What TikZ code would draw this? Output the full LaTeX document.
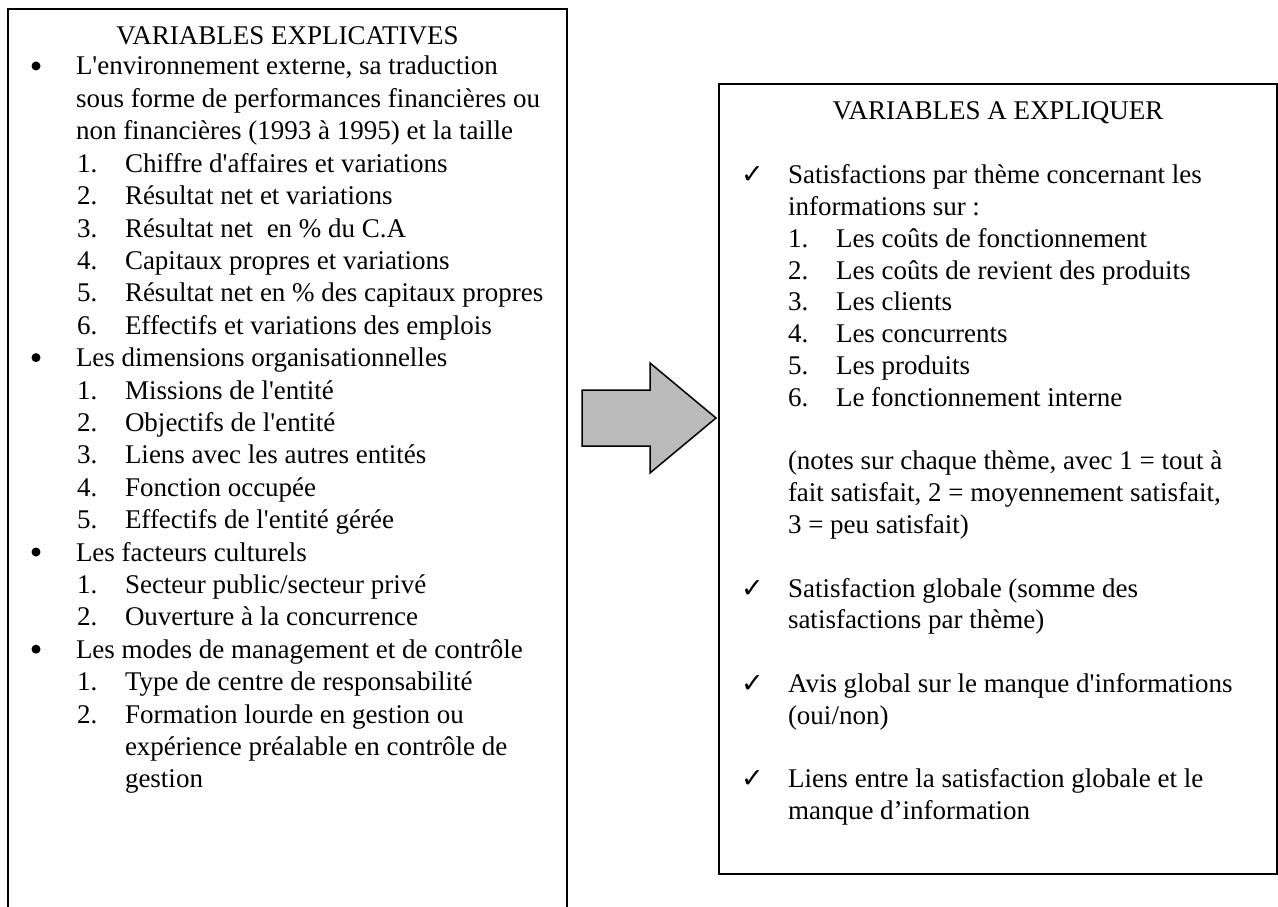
\documentclass[tikz,border=0pt]{standalone}
\usepackage{fontspec}
\setmainfont{Liberation Serif}
\newfontfamily\chkfont{DejaVu Sans}
\newcommand\txtsize{\fontsize{27}{32}\selectfont}
\newcommand\ap{\textquotesingle}
\tikzset{
  t/.style={anchor=base west, inner sep=0pt, outer sep=0pt, font=\txtsize},
  ttl/.style={anchor=base, inner sep=0pt, outer sep=0pt, font=\txtsize},
  dot/.style={circle, fill=black, draw=none, inner sep=0pt, minimum size=9pt},
  frame/.style={draw=black, line width=2pt, fill=none, inner sep=0pt, outer sep=0pt, anchor=north west},
  bigarrow/.style={draw=black, line width=1.5pt, fill=black!27}
}
\begin{document}
\begin{tikzpicture}[x=1pt,y=-1pt]
\useasboundingbox (0,0) rectangle (1278,907);
% left box (open below the page)
\node[frame, minimum width=559pt, minimum height=930pt] (lbox) at (8,9) {};
% right box
\node[frame, minimum width=558pt, minimum height=790pt] (rbox) at (719,84) {};
% block arrow
\draw[bigarrow] (582,390) -- (650,390) -- (650,363) -- (716,418) -- (650,473) -- (650,446) -- (582,446) -- cycle;

% ---------- left texts ----------
\def\ly#1{75+#1*32.4-32.4}
\node[ttl] (ltitle) at (287.5,45) {VARIABLES EXPLICATIVES};
\node[dot] (b1) at (36,{\ly{1}-9}) {};
\node[t] (l1) at (76,{\ly{1}}) {L\ap environnement externe, sa traduction};
\node[t] (l2) at (76,{\ly{2}}) {sous forme de performances financières ou};
\node[t] (l3) at (76,{\ly{3}}) {non financières (1993 à 1995) et la taille};
\foreach \k/\n/\s in {4/1./{Chiffre d\ap affaires et variations},
                      5/2./{Résultat net et variations},
                      6/3./{Résultat net \ en \% du C.A},
                      7/4./{Capitaux propres et variations},
                      8/5./{Résultat net en \% des capitaux propres},
                      9/6./{Effectifs et variations des emplois}}
  {\node[t] (ln\k) at (77,{\ly{\k}}) {\n}; \node[t] (l\k) at (125,{\ly{\k}}) {\s};}
\node[dot] (b2) at (36,{\ly{10}-9}) {};
\node[t] (l10) at (76,{\ly{10}}) {Les dimensions organisationnelles};
\foreach \k/\n/\s in {11/1./{Missions de l\ap entité},
                      12/2./{Objectifs de l\ap entité},
                      13/3./{Liens avec les autres entités},
                      14/4./{Fonction occupée},
                      15/5./{Effectifs de l\ap entité gérée}}
  {\node[t] (ln\k) at (77,{\ly{\k}}) {\n}; \node[t] (l\k) at (125,{\ly{\k}}) {\s};}
\node[dot] (b3) at (36,{\ly{16}-9}) {};
\node[t] (l16) at (76,{\ly{16}}) {Les facteurs culturels};
\node[t] (ln17) at (77,{\ly{17}}) {1.};
\node[t] (l17) at (125,{\ly{17}}) {Secteur public/secteur privé};
\node[t] (ln18) at (77,{\ly{18}}) {2.};
\node[t] (l18) at (125,{\ly{18}}) {Ouverture à la concurrence};
\node[dot] (b4) at (36,{\ly{19}-9}) {};
\node[t] (l19) at (76,{\ly{19}}) {Les modes de management et de contrôle};
\node[t] (ln20) at (77,{\ly{20}}) {1.};
\node[t] (l20) at (125,{\ly{20}}) {Type de centre de responsabilité};
\node[t] (ln21) at (77,{\ly{21}}) {2.};
\node[t] (l21) at (125,{\ly{21}}) {Formation lourde en gestion ou};
\node[t] (l22) at (125,{\ly{22}}) {expérience préalable en contrôle de};
\node[t] (l23) at (125,{\ly{23}}) {gestion};

% ---------- right texts ----------
\def\ry#1{120+#1*31.8}
\node[ttl] (rtitle) at (998,120) {VARIABLES A EXPLIQUER};
\node[t] (c1) at (741,{\ry{2}}) {\chkfont ✓};
\node[t] (r2) at (788,{\ry{2}}) {Satisfactions par thème concernant les};
\node[t] (r3) at (788,{\ry{3}}) {informations sur :};
\foreach \k/\n/\s in {4/1./{Les coûts de fonctionnement},
                      5/2./{Les coûts de revient des produits},
                      6/3./{Les clients},
                      7/4./{Les concurrents},
                      8/5./{Les produits},
                      9/6./{Le fonctionnement interne}}
  {\node[t] (rn\k) at (788,{\ry{\k}}) {\n}; \node[t] (r\k) at (836,{\ry{\k}}) {\s};}
\node[t] (r11) at (788,{\ry{11}}) {(notes sur chaque thème, avec 1 = tout à};
\node[t] (r12) at (788,{\ry{12}}) {fait satisfait, 2 = moyennement satisfait,};
\node[t] (r13) at (788,{\ry{13}}) {3 = peu satisfait)};
\node[t] (c2) at (741,{\ry{15}}) {\chkfont ✓};
\node[t] (r15) at (788,{\ry{15}}) {Satisfaction globale (somme des};
\node[t] (r16) at (788,{\ry{16}}) {satisfactions par thème)};
\node[t] (c3) at (741,{\ry{18}}) {\chkfont ✓};
\node[t] (r18) at (788,{\ry{18}}) {Avis global sur le manque d\ap informations};
\node[t] (r19) at (788,{\ry{19}}) {(oui/non)};
\node[t] (c4) at (741,{\ry{21}}) {\chkfont ✓};
\node[t] (r21) at (788,{\ry{21}}) {Liens entre la satisfaction globale et le};
\node[t] (r22) at (788,{\ry{22}}) {manque d’information};
\end{tikzpicture}
\end{document}
